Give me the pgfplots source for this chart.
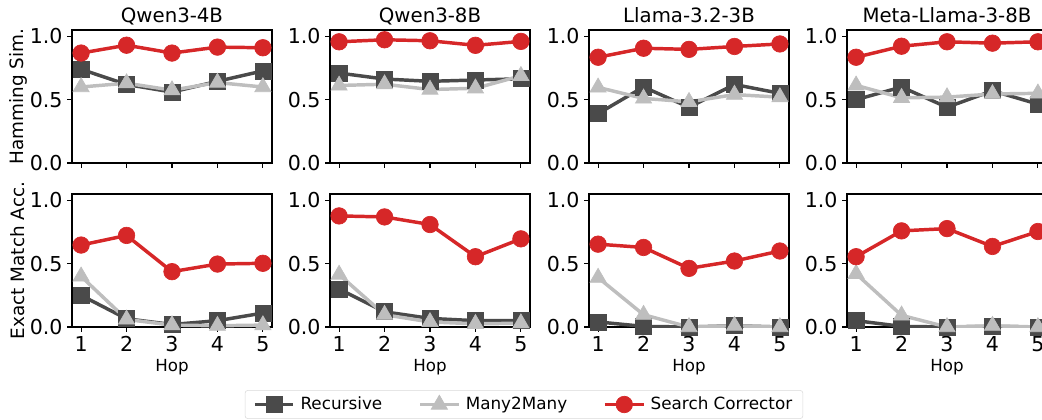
\documentclass[border=0pt]{standalone}
\usepackage{pgfplots}
\usepackage{pgfplotstable}
\pgfplotsset{compat=1.18}
\usepackage{fontspec}
\setmainfont{DejaVu Sans}

\definecolor{recgray}{HTML}{4A4A4A}
\definecolor{mmgray}{HTML}{BEBEBE}
\definecolor{scred}{HTML}{D62728}

% hamming similarity, one table per model
\pgfplotstableread{
hop rec m2m sc
1 0.740 0.600 0.868
2 0.620 0.630 0.930
3 0.560 0.575 0.868
4 0.645 0.635 0.915
5 0.727 0.600 0.910
}\hamA
\pgfplotstableread{
hop rec m2m sc
1 0.710 0.612 0.957
2 0.663 0.622 0.973
3 0.645 0.580 0.965
4 0.655 0.590 0.929
5 0.665 0.688 0.960
}\hamB
\pgfplotstableread{
hop rec m2m sc
1 0.390 0.597 0.835
2 0.600 0.510 0.906
3 0.440 0.483 0.897
4 0.620 0.540 0.920
5 0.550 0.520 0.940
}\hamC
\pgfplotstableread{
hop rec m2m sc
1 0.500 0.613 0.835
2 0.600 0.515 0.922
3 0.440 0.520 0.957
4 0.570 0.545 0.946
5 0.465 0.550 0.957
}\hamD
% exact match accuracy
\pgfplotstableread{
hop rec m2m sc
1 0.250 0.400 0.647
2 0.065 0.060 0.723
3 0.020 0.015 0.437
4 0.050 0.010 0.497
5 0.110 0.015 0.503
}\emA
\pgfplotstableread{
hop rec m2m sc
1 0.300 0.414 0.877
2 0.120 0.097 0.869
3 0.068 0.040 0.809
4 0.050 0.025 0.555
5 0.050 0.030 0.696
}\emB
\pgfplotstableread{
hop rec m2m sc
1 0.040 0.390 0.654
2 0.005 0.097 0.628
3 0.000 0.000 0.463
4 0.010 0.010 0.521
5 0.000 0.000 0.600
}\emC
\pgfplotstableread{
hop rec m2m sc
1 0.050 0.420 0.555
2 0.005 0.092 0.759
3 0.000 0.000 0.777
4 0.005 0.010 0.636
5 0.000 0.000 0.754
}\emD

\pgfplotsset{
  panel/.style={
    anchor=north west, scale only axis,
    width=150pt, height=99.75pt,
    xmin=0.8, xmax=5.2, ymin=0, ymax=1.05,
    xtick={1,2,3,4,5}, ytick={0,0.5,1},
    yticklabel style={/pgf/number format/.cd, fixed, fixed zerofill, precision=1},
    /pgf/number format/assume math mode=true,
    tick align=outside, tick pos=left, major tick length=3.6pt,
    axis line style={line width=0.8pt},
    every tick/.style={black, line width=0.8pt},
    tick label style={font=\fontsize{15.4}{18}\selectfont},
    every axis y label/.style={at={(axis description cs:-0.27,0.5)}, rotate=90, anchor=center,
      font=\fontsize{13.8}{16}\selectfont},
    every axis title/.style={at={(axis description cs:0.5,1)}, anchor=base, yshift=6pt,
      font=\fontsize{14.8}{17}\selectfont},
    every axis x label/.style={at={(axis description cs:0.5,0)}, anchor=base, yshift=-33.5pt,
      font=\fontsize{12.5}{15}\selectfont},
    legend image code/.code={
      \draw[mark repeat=2, mark phase=2, #1] plot coordinates {(0pt,0pt) (14.5pt,0pt) (29pt,0pt)};
    },
  },
  toprow/.style={panel, xticklabels={}},
  botrow/.style={panel, xlabel={Hop}},
  rec/.style={recgray, line width=2.6pt, mark=square*, mark size=6pt, mark options={line width=0.5pt}},
  mm/.style={mmgray, line width=2.6pt, mark=triangle*, mark size=7pt, mark options={line width=0.5pt}},
  sc/.style={scred, line width=2.6pt, mark=*, mark size=6.2pt, mark options={line width=0.5pt}},
}

\begin{document}
\begin{tikzpicture}
% top row: hamming similarity
\begin{axis}[toprow, at={(54pt,-22.5pt)}, title={Qwen3-4B}, ylabel={Hamming Sim.}]
  \addplot[rec] table[x=hop, y=rec] {\hamA};
  \addplot[mm] table[x=hop, y=m2m] {\hamA};
  \addplot[sc] table[x=hop, y=sc] {\hamA};
\end{axis}
\begin{axis}[toprow, at={(247.5pt,-22.5pt)}, title={Qwen3-8B}]
  \addplot[rec] table[x=hop, y=rec] {\hamB};
  \addplot[mm] table[x=hop, y=m2m] {\hamB};
  \addplot[sc] table[x=hop, y=sc] {\hamB};
\end{axis}
\begin{axis}[toprow, at={(441.75pt,-22.5pt)}, title={Llama-3.2-3B}]
  \addplot[rec] table[x=hop, y=rec] {\hamC};
  \addplot[mm] table[x=hop, y=m2m] {\hamC};
  \addplot[sc] table[x=hop, y=sc] {\hamC};
\end{axis}
\begin{axis}[toprow, at={(635.25pt,-22.5pt)}, title={Meta-Llama-3-8B}]
  \addplot[rec] table[x=hop, y=rec] {\hamD};
  \addplot[mm] table[x=hop, y=m2m] {\hamD};
  \addplot[sc] table[x=hop, y=sc] {\hamD};
\end{axis}
% bottom row: exact match
\begin{axis}[botrow, at={(54pt,-145.5pt)}, ylabel={Exact Match Acc.},
    legend columns=3,
    legend style={at={(2.26,-0.475)}, anchor=north, draw=black!15, rounded corners=2pt,
      font=\fontsize{12.6}{15}\selectfont, inner xsep=6pt, inner ysep=3pt,
      /tikz/every odd column/.append style={column sep=2pt},
      /tikz/every even column/.append style={column sep=25pt}}]
  \addplot[rec] table[x=hop, y=rec] {\emA};
  \addplot[mm] table[x=hop, y=m2m] {\emA};
  \addplot[sc] table[x=hop, y=sc] {\emA};
  \legend{Recursive, Many2Many, Search Corrector}
\end{axis}
\begin{axis}[botrow, at={(247.5pt,-145.5pt)}]
  \addplot[rec] table[x=hop, y=rec] {\emB};
  \addplot[mm] table[x=hop, y=m2m] {\emB};
  \addplot[sc] table[x=hop, y=sc] {\emB};
\end{axis}
\begin{axis}[botrow, at={(441.75pt,-145.5pt)}]
  \addplot[rec] table[x=hop, y=rec] {\emC};
  \addplot[mm] table[x=hop, y=m2m] {\emC};
  \addplot[sc] table[x=hop, y=sc] {\emC};
\end{axis}
\begin{axis}[botrow, at={(635.25pt,-145.5pt)}]
  \addplot[rec] table[x=hop, y=rec] {\emD};
  \addplot[mm] table[x=hop, y=m2m] {\emD};
  \addplot[sc] table[x=hop, y=sc] {\emD};
\end{axis}
% the reference is cut off on the right and at the bottom
\pgfresetboundingbox
\useasboundingbox (0pt,0pt) rectangle (781.5pt,-314.25pt);
\end{tikzpicture}
\end{document}
